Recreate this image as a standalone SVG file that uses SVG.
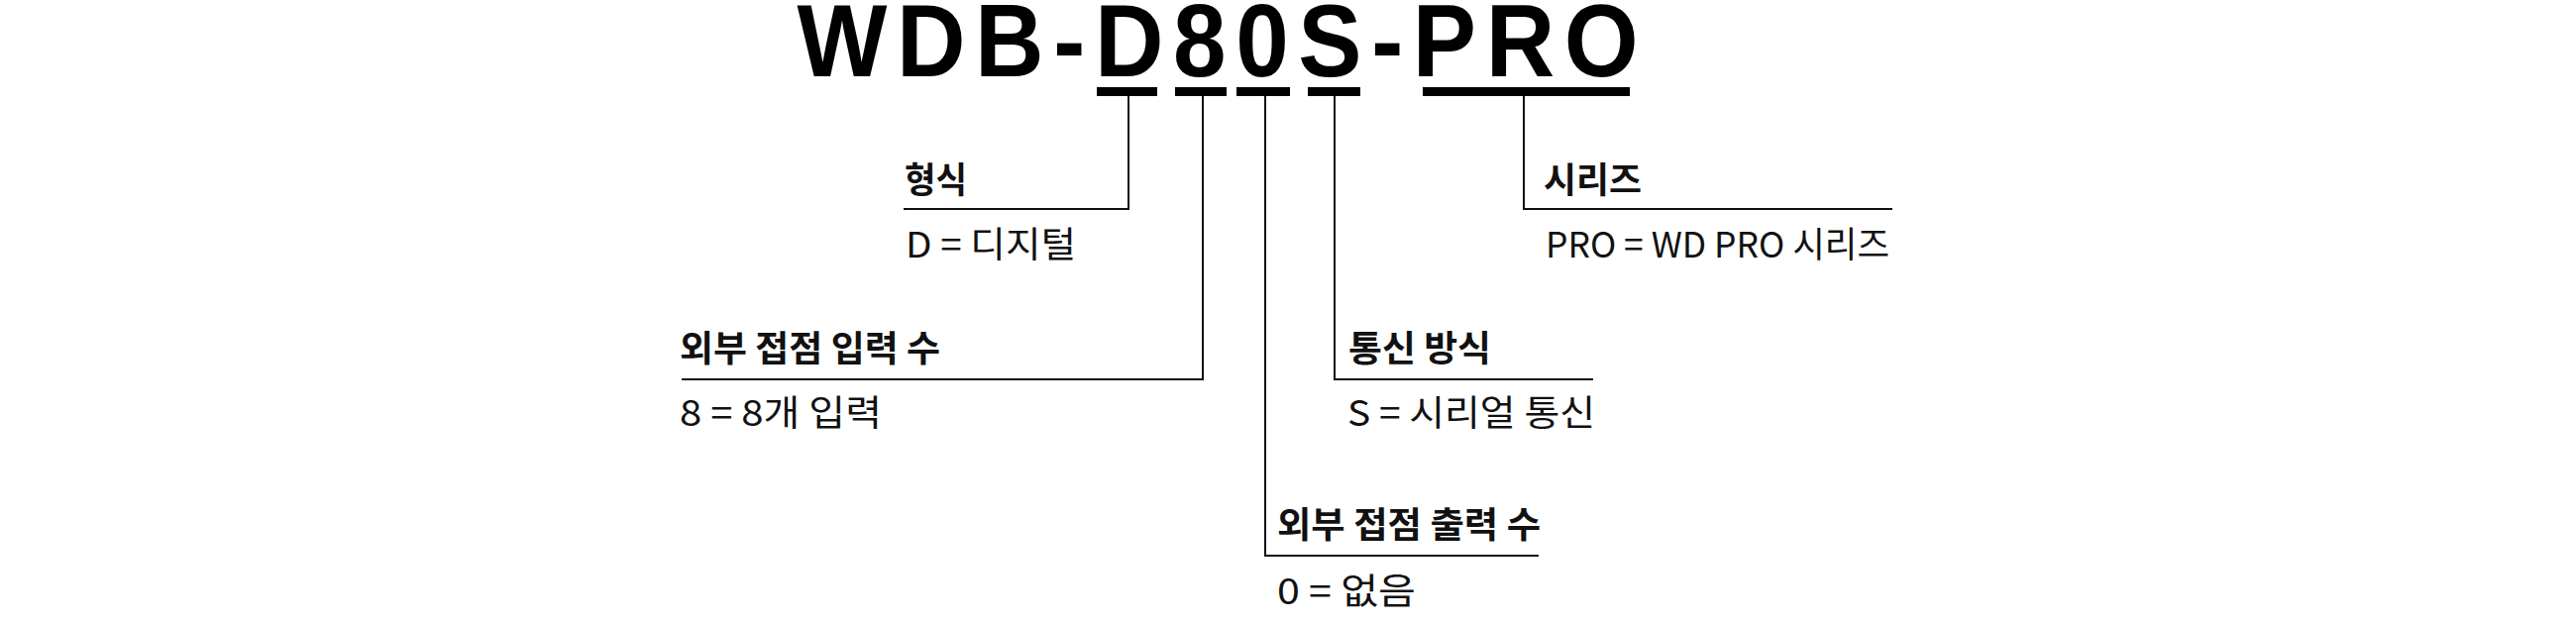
<svg xmlns="http://www.w3.org/2000/svg" width="2600" height="630" viewBox="0 0 2600 630">
<style>
  .title { font-family: "Liberation Sans", Arial, sans-serif; font-weight: 700; font-size: 103px; fill: #000; }
  .lbl { font-family: "Noto Sans CJK KR", "Noto Sans", sans-serif; font-weight: 700; font-size: 36px; fill: #111; }
  .val { font-family: "Noto Sans CJK KR", "Noto Sans", sans-serif; font-weight: 400; font-size: 36px; fill: #111; }
  .bar { fill: #000; }
  .ln { stroke: #111; stroke-width: 2; fill: none; }
</style>
<rect width="2600" height="630" fill="#fff"/>
<g id="title">
  <text class="title" transform="translate(804.5,77) scale(0.9345,1)" letter-spacing="10.3">WDB-D80S-PRO</text>
</g>
<g id="connectors">
  <rect class="bar" x="1107" y="88" width="61" height="9"/>
  <rect class="bar" x="1186" y="88" width="52" height="9"/>
  <rect class="bar" x="1248" y="88" width="54" height="9"/>
  <rect class="bar" x="1320" y="88" width="53" height="9"/>
  <rect class="bar" x="1436" y="88" width="209" height="9"/>
  <polyline class="ln" points="1139,97 1139,211 912,211"/>
  <polyline class="ln" points="1214,97 1214,383 688,383"/>
  <polyline class="ln" points="1277,97 1277,561 1553,561"/>
  <polyline class="ln" points="1347,97 1347,383 1608,383"/>
  <polyline class="ln" points="1538,97 1538,211 1910,211"/>
</g>
<g id="node-type">
  <text class="lbl" x="913" y="195" textLength="63" lengthAdjust="spacingAndGlyphs">형식</text>
  <text class="val" x="914" y="260" textLength="172" lengthAdjust="spacingAndGlyphs">D = 디지털</text>
</g>
<g id="node-input">
  <text class="lbl" x="686" y="365" textLength="263" lengthAdjust="spacingAndGlyphs">외부 접점 입력 수</text>
  <text class="val" x="686" y="430" textLength="204" lengthAdjust="spacingAndGlyphs">8 = 8개 입력</text>
</g>
<g id="node-output">
  <text class="lbl" x="1289" y="543" textLength="266" lengthAdjust="spacingAndGlyphs">외부 접점 출력 수</text>
  <text class="val" x="1289" y="610" textLength="140" lengthAdjust="spacingAndGlyphs">0 = 없음</text>
</g>
<g id="node-comm">
  <text class="lbl" x="1361" y="365" textLength="144" lengthAdjust="spacingAndGlyphs">통신 방식</text>
  <text class="val" x="1360" y="430" textLength="250" lengthAdjust="spacingAndGlyphs">S = 시리얼 통신</text>
</g>
<g id="node-series">
  <text class="lbl" x="1558" y="195" textLength="99" lengthAdjust="spacingAndGlyphs">시리즈</text>
  <text class="val" x="1560" y="260" textLength="347" lengthAdjust="spacingAndGlyphs">PRO = WD PRO 시리즈</text>
</g>
</svg>
